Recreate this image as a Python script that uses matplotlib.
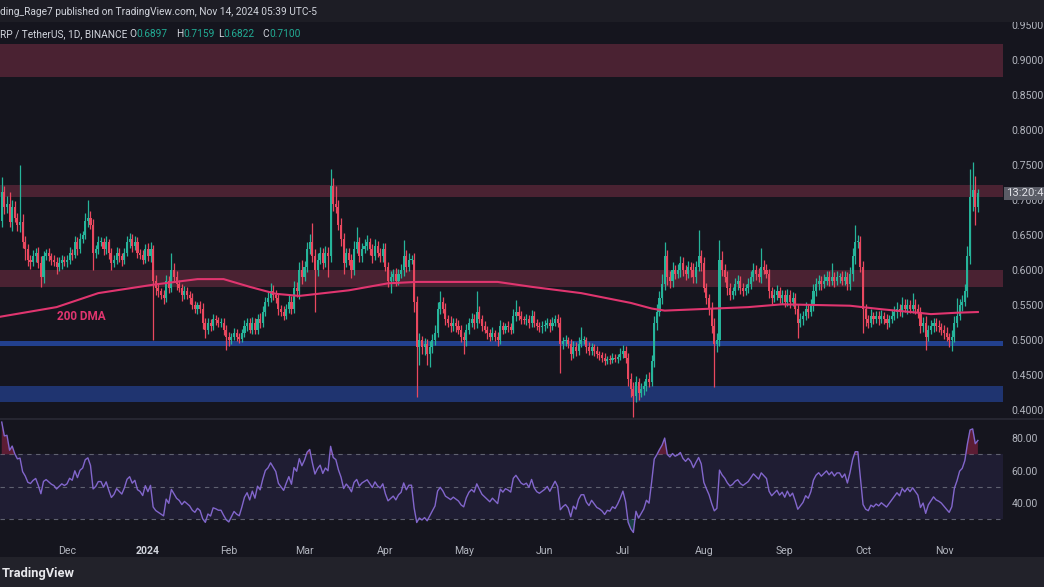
import numpy as np
import pandas as pd
import matplotlib
matplotlib.use("Agg")
import matplotlib.pyplot as plt
import matplotlib.dates as mdates
from matplotlib.patches import Rectangle
from matplotlib.lines import Line2D

# ---- data (XRP/USDT daily) ----
# closes before the visible window, only used to warm up the RSI
pre_closes = [0.520, 0.545, 0.555, 0.560, 0.545, 0.540, 0.545, 0.555, 0.565, 0.600,
              0.605, 0.600, 0.605, 0.620, 0.670]

# daily closes per month, wick lengths in thousandths (up above body, dn below body)
c_nov23 = [0.712, 0.690, 0.694, 0.668, 0.690, 0.675, 0.665, 0.668, 0.640, 0.630,
           0.615, 0.612, 0.620, 0.625, 0.610, 0.590, 0.620, 0.625, 0.620, 0.615,
           0.612, 0.605, 0.610, 0.615, 0.612]
u_nov23 = [21, 8, 12, 18, 10, 8, 6, 82, 12, 8, 7, 6, 9, 6, 8, 10, 7, 5, 6, 5, 7, 6, 8, 6, 5]
d_nov23 = [8, 10, 8, 6, 12, 7, 9, 10, 8, 15, 9, 10, 6, 8, 7, 14, 8, 6, 7, 8, 6, 10, 7, 8, 6]

c_dec23 = [0.615, 0.625, 0.622, 0.640, 0.630, 0.645, 0.650, 0.670, 0.675, 0.665,
           0.625, 0.630, 0.640, 0.640, 0.630, 0.640, 0.625, 0.610, 0.615, 0.625,
           0.620, 0.615, 0.625, 0.640, 0.645, 0.635, 0.640, 0.625, 0.622, 0.615, 0.630]
u_dec23 = [6, 8, 5, 9, 7, 8, 6, 12, 25, 10, 8, 6, 9, 7, 6, 8, 5, 7, 6, 8, 6, 5, 7, 9, 8, 6, 8, 7, 5, 6, 7]
d_dec23 = [7, 6, 8, 5, 9, 6, 7, 6, 8, 7, 25, 8, 7, 6, 8, 7, 9, 10, 6, 7, 8, 9, 6, 5, 8, 9, 7, 8, 6, 7, 5]

c_jan24 = [0.620, 0.630, 0.585, 0.575, 0.570, 0.565, 0.560, 0.585, 0.575, 0.600,
           0.590, 0.580, 0.575, 0.565, 0.570, 0.565, 0.560, 0.550, 0.545, 0.550,
           0.545, 0.525, 0.515, 0.525, 0.520, 0.530, 0.528, 0.525, 0.525, 0.515, 0.505]
u_jan24 = [8, 10, 6, 8, 6, 5, 7, 8, 7, 24, 10, 8, 6, 5, 7, 6, 5, 7, 6, 5, 6, 8, 7, 6, 5, 7, 6, 5, 6, 7, 6]
d_jan24 = [7, 9, 85, 10, 8, 7, 9, 6, 8, 7, 6, 8, 7, 9, 6, 7, 8, 6, 7, 8, 6, 9, 12, 6, 7, 5, 6, 7, 6, 8, 19]

c_feb24 = [0.500, 0.505, 0.510, 0.505, 0.502, 0.510, 0.520, 0.525, 0.515, 0.525,
           0.515, 0.530, 0.525, 0.540, 0.555, 0.560, 0.570, 0.565, 0.560, 0.545,
           0.540, 0.535, 0.545, 0.555, 0.545, 0.575, 0.570, 0.600, 0.590]
u_feb24 = [6, 5, 7, 6, 5, 6, 8, 7, 6, 8, 6, 7, 9, 8, 7, 9, 12, 8, 6, 7, 5, 8, 7, 9, 8, 10, 8, 12, 15]
d_feb24 = [8, 6, 5, 7, 6, 5, 6, 7, 5, 6, 7, 6, 8, 6, 5, 7, 6, 8, 7, 9, 6, 7, 5, 6, 8, 6, 9, 12, 10]

c_mar24 = [0.605, 0.630, 0.640, 0.620, 0.600, 0.615, 0.625, 0.610, 0.625, 0.620,
           0.720, 0.695, 0.690, 0.665, 0.645, 0.610, 0.625, 0.615, 0.600, 0.630,
           0.640, 0.620, 0.630, 0.635, 0.640, 0.630, 0.620, 0.635, 0.625, 0.620, 0.630]
u_mar24 = [8, 10, 12, 27, 10, 9, 8, 7, 9, 8, 25, 12, 25, 10, 9, 8, 7, 6, 8, 12, 21, 7, 8, 9, 10, 6, 7, 9, 6, 7, 8]
d_mar24 = [6, 8, 7, 9, 60, 8, 7, 9, 6, 30, 8, 10, 9, 8, 10, 15, 6, 8, 12, 7, 6, 8, 9, 6, 7, 8, 10, 6, 7, 8, 9]

c_apr24 = [0.605, 0.585, 0.590, 0.595, 0.585, 0.595, 0.600, 0.620, 0.605, 0.615,
           0.615, 0.555, 0.490, 0.500, 0.490, 0.495, 0.480, 0.490, 0.500, 0.510,
           0.545, 0.555, 0.545, 0.530, 0.525, 0.520, 0.525, 0.520, 0.515, 0.505]
u_apr24 = [8, 6, 9, 7, 8, 6, 9, 23, 8, 10, 6, 10, 8, 10, 6, 8, 7, 9, 8, 12, 10, 15, 7, 8, 6, 9, 7, 6, 8, 7]
d_apr24 = [7, 9, 18, 6, 8, 7, 6, 9, 8, 7, 6, 15, 72, 25, 10, 12, 15, 18, 8, 7, 6, 8, 7, 9, 6, 8, 7, 9, 6, 8]

c_may24 = [0.500, 0.515, 0.525, 0.530, 0.525, 0.540, 0.530, 0.520, 0.515, 0.510,
           0.505, 0.510, 0.505, 0.500, 0.520, 0.515, 0.520, 0.518, 0.515, 0.535,
           0.540, 0.535, 0.530, 0.528, 0.530, 0.525, 0.535, 0.525, 0.520, 0.518, 0.520]
u_may24 = [7, 8, 6, 9, 7, 30, 8, 6, 7, 5, 6, 8, 5, 7, 9, 6, 5, 7, 6, 10, 17, 8, 6, 5, 7, 6, 8, 7, 5, 6, 7]
d_may24 = [20, 8, 6, 7, 9, 8, 6, 7, 5, 8, 6, 5, 7, 9, 6, 7, 5, 6, 7, 5, 8, 6, 7, 5, 6, 8, 6, 7, 5, 6, 8]

c_jun24 = [0.522, 0.525, 0.520, 0.525, 0.530, 0.525, 0.495, 0.498, 0.500, 0.495,
           0.480, 0.490, 0.485, 0.495, 0.500, 0.500, 0.490, 0.485, 0.490, 0.485,
           0.480, 0.478, 0.475, 0.470, 0.473, 0.472, 0.475, 0.473, 0.476, 0.480]
u_jun24 = [6, 7, 5, 8, 6, 7, 8, 6, 7, 5, 6, 8, 7, 9, 19, 6, 5, 7, 6, 5, 7, 4, 5, 6, 4, 5, 6, 5, 4, 8]
d_jun24 = [7, 5, 8, 6, 5, 7, 42, 8, 6, 7, 9, 6, 8, 7, 5, 6, 8, 7, 6, 8, 5, 7, 6, 5, 4, 6, 5, 4, 6, 5]

c_jul24 = [0.485, 0.475, 0.445, 0.430, 0.420, 0.440, 0.425, 0.430, 0.435, 0.445,
           0.440, 0.470, 0.525, 0.540, 0.560, 0.580, 0.620, 0.590, 0.585, 0.600,
           0.595, 0.600, 0.610, 0.600, 0.595, 0.605, 0.600, 0.590, 0.605, 0.620, 0.610]
u_jul24 = [8, 7, 6, 8, 10, 9, 6, 8, 7, 6, 9, 8, 10, 12, 10, 14, 20, 9, 8, 12, 7, 8, 10, 9, 7, 8, 6, 10, 8, 37, 9]
d_jul24 = [6, 8, 10, 12, 30, 8, 10, 7, 9, 8, 7, 6, 8, 10, 6, 9, 8, 12, 10, 9, 8, 7, 10, 8, 9, 7, 10, 8, 9, 7, 12]

c_aug24 = [0.575, 0.560, 0.545, 0.520, 0.495, 0.500, 0.615, 0.600, 0.590, 0.575,
           0.565, 0.570, 0.580, 0.585, 0.575, 0.570, 0.575, 0.580, 0.590, 0.600,
           0.595, 0.590, 0.605, 0.600, 0.595, 0.570, 0.560, 0.565, 0.570, 0.560, 0.565]
u_aug24 = [8, 7, 6, 9, 12, 10, 28, 12, 9, 8, 7, 6, 9, 8, 7, 6, 5, 8, 9, 10, 7, 8, 26, 9, 8, 7, 6, 8, 9, 6, 7]
d_aug24 = [6, 8, 9, 10, 62, 12, 8, 9, 7, 10, 8, 7, 6, 8, 9, 7, 6, 8, 7, 6, 9, 7, 8, 6, 7, 10, 9, 6, 8, 7, 8]

c_sep24 = [0.555, 0.565, 0.555, 0.560, 0.545, 0.525, 0.530, 0.535, 0.545, 0.540,
           0.550, 0.570, 0.580, 0.585, 0.580, 0.585, 0.590, 0.585, 0.590, 0.585,
           0.590, 0.590, 0.585, 0.590, 0.580, 0.595, 0.620, 0.640, 0.640, 0.605]
u_sep24 = [7, 8, 6, 9, 7, 6, 8, 7, 9, 6, 8, 10, 9, 8, 7, 10, 8, 9, 20, 7, 8, 6, 9, 8, 7, 10, 12, 24, 10, 8]
d_sep24 = [8, 6, 9, 7, 8, 22, 6, 8, 7, 9, 6, 8, 7, 9, 8, 6, 7, 8, 6, 9, 7, 8, 6, 7, 8, 9, 10, 12, 9, 8]

c_oct24 = [0.545, 0.530, 0.525, 0.535, 0.530, 0.535, 0.530, 0.535, 0.530, 0.525,
           0.530, 0.535, 0.540, 0.545, 0.540, 0.550, 0.545, 0.550, 0.545, 0.550,
           0.545, 0.540, 0.520, 0.525, 0.505, 0.515, 0.520, 0.525, 0.520, 0.518, 0.515]
u_oct24 = [8, 7, 6, 9, 5, 7, 6, 8, 5, 7, 6, 8, 9, 10, 7, 12, 8, 9, 7, 17, 8, 6, 7, 8, 9, 6, 8, 7, 6, 8, 7]
d_oct24 = [35, 10, 8, 6, 7, 5, 8, 6, 7, 9, 6, 5, 7, 8, 6, 7, 5, 8, 6, 7, 8, 9, 10, 8, 19, 7, 6, 8, 7, 6, 8]

c_nov24 = [0.510, 0.505, 0.500, 0.505, 0.525, 0.535, 0.550, 0.555, 0.570, 0.620,
           0.705, 0.715, 0.6897, 0.7100]
u_nov24 = [6, 8, 5, 9, 10, 25, 8, 9, 10, 15, 40, 40, 20, 5.9]
d_nov24 = [8, 7, 10, 15, 8, 6, 7, 8, 6, 9, 12, 20, 25, 7.5]

# 200 DMA
dma_dates = ["2023-11-05", "2023-11-27", "2023-12-13", "2024-01-03", "2024-01-20",
             "2024-01-30", "2024-02-09", "2024-02-19", "2024-02-28", "2024-03-18",
             "2024-04-02", "2024-04-13", "2024-05-14", "2024-05-27", "2024-06-15",
             "2024-07-04", "2024-07-12", "2024-07-17", "2024-08-18", "2024-08-31",
             "2024-09-26", "2024-10-08", "2024-10-22", "2024-10-27", "2024-11-06",
             "2024-11-14"]
dma_values = [0.533, 0.547, 0.567, 0.579, 0.587, 0.587, 0.576, 0.566, 0.563, 0.571,
              0.581, 0.583, 0.583, 0.576, 0.567, 0.553, 0.545, 0.542, 0.547, 0.551,
              0.549, 0.544, 0.539, 0.537, 0.539, 0.540]

# support / resistance zones (low, high)
red_zones = [(0.876, 0.923), (0.705, 0.721), (0.576, 0.600)]
blue_zones = [(0.491, 0.499), (0.411, 0.434)]

price_ticks = [0.40, 0.45, 0.50, 0.55, 0.60, 0.65, 0.70, 0.75, 0.80, 0.85, 0.90, 0.95]
rsi_ticks = [40, 60, 80]
month_starts = ["2023-12-01", "2024-01-01", "2024-02-01", "2024-03-01", "2024-04-01",
                "2024-05-01", "2024-06-01", "2024-07-01", "2024-08-01", "2024-09-01",
                "2024-10-01", "2024-11-01"]
month_labels = ["Dec", "2024", "Feb", "Mar", "Apr", "May", "Jun", "Jul", "Aug", "Sep", "Oct", "Nov"]
ohlc_labels = [("O", "0.6897", 129), ("H", "0.7159", 176), ("L", "0.6822", 218), ("C", "0.7100", 262)]

# ---- style ----
BG = "#15151e"
HEADER = "#1d1d25"
FOOTER = "#22222a"
UP = "#26b49a"
DOWN = "#e9485f"
DMA_C = "#e0356f"
TXT = "#b2b5be"
RED_Z = "#4a2232"
BLUE_THIN = "#22408e"
BLUE_Z = "#1f3470"
HEAD_FS = 7.3

plt.rcParams["font.family"] = ["Roboto", "DejaVu Sans"]

W, H = 1044, 587


def fy(px):
    return 1 - px / H


closes = np.array(c_nov23 + c_dec23 + c_jan24 + c_feb24 + c_mar24 + c_apr24 + c_may24
                  + c_jun24 + c_jul24 + c_aug24 + c_sep24 + c_oct24 + c_nov24)
ups = np.array(u_nov23 + u_dec23 + u_jan24 + u_feb24 + u_mar24 + u_apr24 + u_may24
               + u_jun24 + u_jul24 + u_aug24 + u_sep24 + u_oct24 + u_nov24) / 1000
dns = np.array(d_nov23 + d_dec23 + d_jan24 + d_feb24 + d_mar24 + d_apr24 + d_may24
               + d_jun24 + d_jul24 + d_aug24 + d_sep24 + d_oct24 + d_nov24) / 1000
opens = np.concatenate([[pre_closes[-1]], closes[:-1]])
highs = np.maximum(opens, closes) + ups
lows = np.minimum(opens, closes) - dns

dates = pd.date_range("2023-11-06", periods=len(closes), freq="D")
x = mdates.date2num(dates)

# Wilder RSI(14)
allc = np.array(pre_closes + list(closes))
delta = np.diff(allc)
gain = np.clip(delta, 0, None)
loss = np.clip(-delta, 0, None)
ag, al = gain[:14].mean(), loss[:14].mean()
rsi = []
for i in range(14, len(delta)):
    ag = (ag * 13 + gain[i]) / 14
    al = (al * 13 + loss[i]) / 14
    rsi.append(100 - 100 / (1 + ag / al) if al > 0 else 100.0)
rsi = np.array(rsi)

fig = plt.figure(figsize=(W / 100, H / 100), dpi=100, facecolor=BG)

x0 = x[0] - 0.67
x1 = x0 + 1003 / 2.61

ax = fig.add_axes([0, fy(418), 1003 / W, (418 - 22) / H], facecolor=BG)
ax_r = fig.add_axes([0, fy(536), 1003 / W, (536 - 420) / H], facecolor=BG, sharex=ax)

for lo, hi in red_zones:
    ax.axhspan(lo, hi, color=RED_Z, lw=0, zorder=0)
ax.axhspan(*blue_zones[0], color=BLUE_THIN, lw=0, zorder=0)
ax.axhspan(*blue_zones[1], color=BLUE_Z, lw=0, zorder=0)

colors = np.where(closes >= opens, UP, DOWN)
ax.vlines(x, lows, highs, colors=colors, lw=0.9, zorder=2)
ax.bar(x, np.maximum(np.abs(closes - opens), 0.0012), bottom=np.minimum(opens, closes),
       width=0.8, color=colors, lw=0, zorder=3)

ax.plot(mdates.date2num(pd.to_datetime(dma_dates)), dma_values, color=DMA_C, lw=1.5, zorder=4)
ax.text(mdates.date2num(pd.Timestamp("2023-11-27")), 0.5343, "200 DMA", color=DMA_C,
        fontsize=8.5, fontweight="bold", va="center", ha="left", zorder=5)

ax.set_xlim(x0, x1)
ax.set_ylim(0.3886, 0.9543)
ax.yaxis.tick_right()
ax.set_yticks(price_ticks)
ax.set_yticklabels([f"{v:.4f}" for v in price_ticks])
ax.tick_params(axis="y", length=0, pad=6, labelsize=7.6, labelcolor=TXT)
ax.tick_params(axis="x", length=0, labelbottom=False)
for s in ax.spines.values():
    s.set_visible(False)

# RSI panel
ax_r.axhspan(30, 70, color="#1f1d33", lw=0, zorder=0)
for lvl in (70, 50, 30):
    ax_r.axhline(lvl, color="#5f6170", lw=0.8, ls=(0, (4, 4)), zorder=1)
ax_r.fill_between(x, rsi, 70, where=rsi > 70, interpolate=True, color="#b3284f", alpha=0.45, lw=0, zorder=2)
ax_r.fill_between(x, rsi, 30, where=rsi < 30, interpolate=True, color="#26a69a", alpha=0.3, lw=0, zorder=2)
ax_r.plot(x, rsi, color="#8266cc", lw=1.0, zorder=3)
ax_r.set_ylim(19.7, 91.1)
ax_r.yaxis.tick_right()
ax_r.set_yticks(rsi_ticks)
ax_r.set_yticklabels([f"{v:.2f}" for v in rsi_ticks])
ax_r.tick_params(axis="y", length=0, pad=6, labelsize=7.6, labelcolor=TXT)
ax_r.set_xticks(mdates.date2num(pd.to_datetime(month_starts)))
ax_r.set_xticklabels(month_labels)
ax_r.tick_params(axis="x", length=0, pad=7, labelsize=7.6, labelcolor=TXT)
ax_r.get_xticklabels()[1].set_fontweight("bold")
ax_r.get_xticklabels()[1].set_color("#d1d4dc")
for s in ax_r.spines.values():
    s.set_visible(False)

# header, footer, separators
fig.patches.append(Rectangle((0, fy(22)), 1, 22 / H, transform=fig.transFigure,
                             color=HEADER, lw=0, zorder=5))
fig.patches.append(Rectangle((0, 0), 1, 30 / H, transform=fig.transFigure,
                             color=FOOTER, lw=0, zorder=5))
fig.lines.append(Line2D([0, 1], [fy(419), fy(419)], transform=fig.transFigure,
                        color="#2a2a36", lw=1.2, zorder=5))

fig.text(0, fy(12), "ding_Rage7 published on TradingView.com, Nov 14, 2024 05:39 UTC-5",
         color="#d1d4dc", fontsize=HEAD_FS, va="center", ha="left", zorder=6)
fig.text(0, fy(34), "RP / TetherUS, 1D, BINANCE", color="#d1d4dc", fontsize=HEAD_FS,
         va="center", ha="left", zorder=6)
for lab, val, px in ohlc_labels:
    fig.text(px / W, fy(34), lab, color="#d1d4dc", fontsize=HEAD_FS, va="center", ha="left", zorder=6)
    fig.text((px + (7 if lab != "L" else 5)) / W, fy(34), val, color="#22ab94", fontsize=HEAD_FS,
             va="center", ha="left", zorder=6)

fig.text(2 / W, fy(573), "TradingView", color="#e8e8ec", fontsize=9.3, fontweight="bold",
         va="center", ha="left", zorder=6)

# countdown box on the price scale (covers the top of the 0.7000 label, as in the screenshot)
fig.patches.append(Rectangle((1004 / W, fy(200)), 40 / W, 13 / H, transform=fig.transFigure,
                             color="#5a5c66", lw=0, zorder=7))
fig.text(1006 / W, fy(193.5), "13:20:4", color="#e0e0e6", fontsize=8.2, va="center",
         ha="left", zorder=8)

fig.savefig("out.png", dpi=100, facecolor=BG)
